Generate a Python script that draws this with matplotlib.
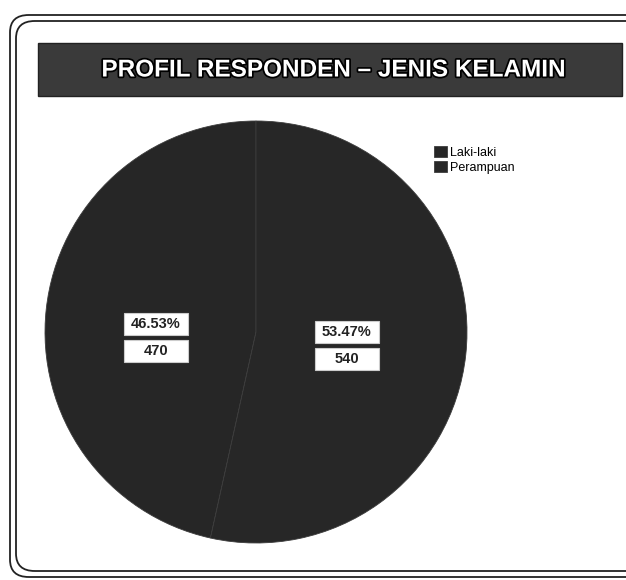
import matplotlib as mpl
import matplotlib.pyplot as plt
import matplotlib.patheffects as pe
from matplotlib.patches import FancyBboxPatch, Rectangle

mpl.rcParams.update({"font.family": ["Liberation Sans", "DejaVu Sans"]})

# data
labels = ["Laki-laki", "Perampuan"]
counts = [470, 540]
title = "PROFIL RESPONDEN \u2013 JENIS KELAMIN"

W, H = 626, 580
fig = plt.figure(figsize=(W / 100, H / 100), dpi=100)
fig.patch.set_facecolor("white")


def fx(px):
    return px / W


def fy(py):
    return 1 - py / H


# outer rounded frame (double line)
for off in (0, 6):
    fig.patches.append(FancyBboxPatch((fx(10 + off), fy(577 - off)), fx(640 - off), fy(15 + off) - fy(577 - off),
                                      boxstyle="round,pad=0,rounding_size=0.03", transform=fig.transFigure,
                                      fill=False, edgecolor="#222222", linewidth=1.3, zorder=0))

# title bar
fig.patches.append(Rectangle((fx(38), fy(96)), fx(622 - 38), fy(43) - fy(96), transform=fig.transFigure,
                             facecolor="#3a3a3a", edgecolor="#222222", zorder=1))
fig.text(fx(333), fy(70), title, ha="center", va="center", color="white", fontsize=17.5, fontweight="bold",
         path_effects=[pe.withStroke(linewidth=2.5, foreground="black")], zorder=2)

# pie
cx, cy, r = 256, 332, 211
ax = fig.add_axes([fx(cx - r), fy(cy + r), fx(2 * r), fy(cy - r) - fy(cy + r)])
wedges, _ = ax.pie(counts, startangle=90, counterclock=True, colors=["#262626", "#272727"],
                   wedgeprops=dict(edgecolor="#3c3c3c", linewidth=0.6))
ax.set_xlim(-1, 1)
ax.set_ylim(-1, 1)
ax.set_aspect("auto")

total = sum(counts)
label_pos = [(-0.474, 0.0), (0.431, -0.04)]
bw, bh = 0.30, 0.104
for (x, y), c in zip(label_pos, counts):
    for yy, s in ((y + 0.038, "{:.2f}%".format(100 * c / total)), (y - 0.09, str(c))):
        ax.add_patch(Rectangle((x - bw / 2, yy - bh / 2), bw, bh, facecolor="white", edgecolor="#cccccc",
                               linewidth=0.8, zorder=3))
        ax.text(x, yy, s, ha="center", va="center", fontsize=10.5, fontweight="bold", color="#222222", zorder=4)

fig.legend(wedges, labels, loc="upper left", bbox_to_anchor=(fx(429), fy(141)), frameon=False,
           fontsize=9, handlelength=1.0, handleheight=1.0, handletextpad=0.3, labelspacing=0.15,
           borderaxespad=0)

fig.savefig("out.png", dpi=100)
